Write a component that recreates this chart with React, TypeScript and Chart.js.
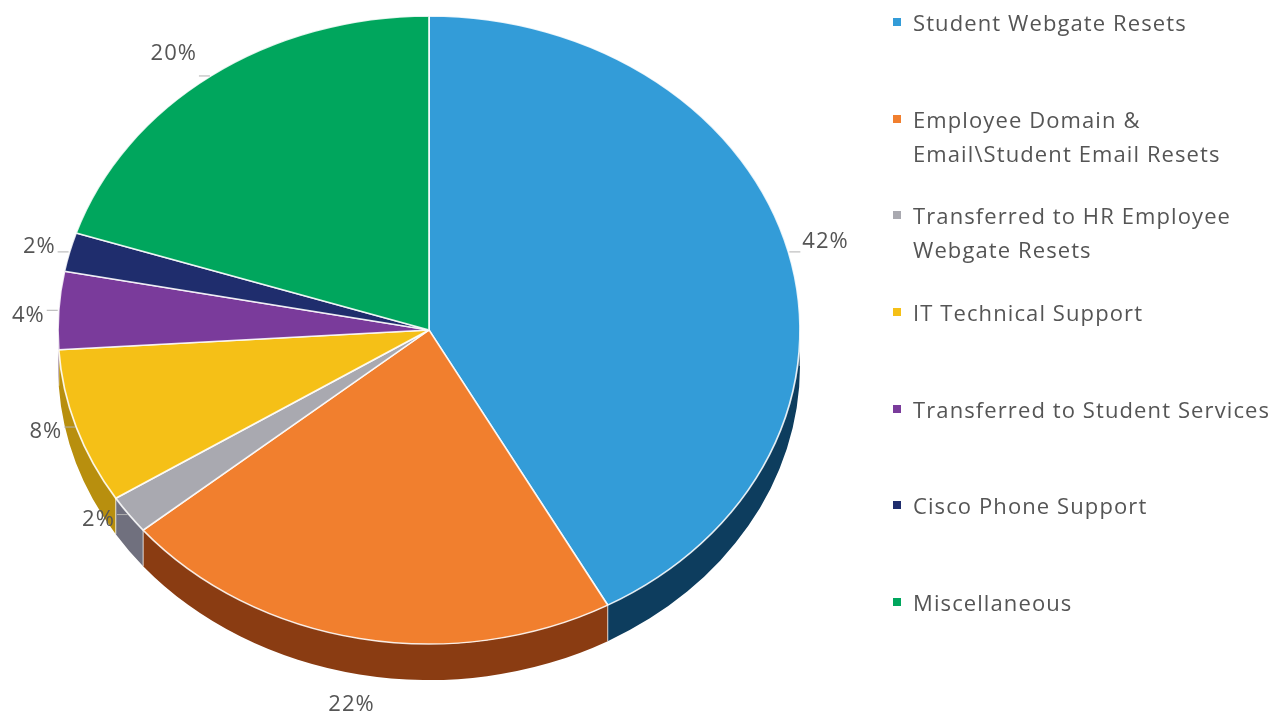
import React, { useEffect, useRef } from "react";
import { Chart, registerables } from "chart.js";

Chart.register(...registerables);

// ---- data ----
const categories = [
  "Student Webgate Resets",
  "Employee Domain & Email\\Student Email Resets",
  "Transferred to HR Employee Webgate Resets",
  "IT Technical Support",
  "Transferred to Student Services",
  "Cisco Phone Support",
  "Miscellaneous",
];
const legendLines = [
  ["Student Webgate Resets"],
  ["Employee Domain &", "Email\\Student Email Resets"],
  ["Transferred to HR Employee", "Webgate Resets"],
  ["IT Technical Support"],
  ["Transferred to Student Services"],
  ["Cisco Phone Support"],
  ["Miscellaneous"],
];
const values = [42, 22, 2, 8, 4, 2, 20];
const percentLabels = ["42%", "22%", "2%", "8%", "4%", "2%", "20%"];
const topColors = ["#339cd8", "#f17f2e", "#a9a9b0", "#f5c017", "#7a3b9b", "#1f2d6d", "#00a65d"];
const sideColors = ["#0d3d5e", "#8a3c12", "#70707e", "#b88f0e", "#4a2060", "#101a40", "#006a3a"];

// ---- look ----
const SX = 371 / 314; // horizontal stretch of the tilted pie
const DEPTH = 36;

const pie3d = {
  id: "pie3d",
  beforeDatasetsDraw(chart: any) {
    const meta = chart.getDatasetMeta(0);
    const ctx = chart.ctx as CanvasRenderingContext2D;
    const a0 = meta.data[0] as any;
    const cx = a0.x, cy = a0.y;
    ctx.save();
    ctx.translate(cx, cy);
    ctx.scale(SX, 1);
    ctx.translate(-cx, -cy);
    meta.data.forEach((el: any, i: number) => {
      const s = Math.max(el.startAngle, 0);
      const e = Math.min(el.endAngle, Math.PI);
      if (e > s) {
        ctx.beginPath();
        ctx.arc(el.x, el.y, el.outerRadius, s, e);
        ctx.arc(el.x, el.y + DEPTH, el.outerRadius, e, s, true);
        ctx.closePath();
        ctx.fillStyle = sideColors[i];
        ctx.fill();
        ctx.strokeStyle = "rgba(255,255,255,0.6)";
        ctx.lineWidth = 1;
        ctx.beginPath();
        ctx.moveTo(el.x + el.outerRadius * Math.cos(s), el.y + el.outerRadius * Math.sin(s));
        ctx.lineTo(el.x + el.outerRadius * Math.cos(s), el.y + DEPTH + el.outerRadius * Math.sin(s));
        ctx.stroke();
      }
    });
  },
  afterDatasetsDraw(chart: any) {
    const ctx = chart.ctx as CanvasRenderingContext2D;
    ctx.restore();
    const meta = chart.getDatasetMeta(0);
    ctx.save();
    ctx.font = "22px 'Open Sans', sans-serif";
    (ctx as any).letterSpacing = "1px";
    ctx.fillStyle = "#555555";
    ctx.strokeStyle = "#b0b0b0";
    ctx.lineWidth = 1;
    meta.data.forEach((el: any, i: number) => {
      const mid = (el.startAngle + el.endAngle) / 2;
      const r = el.outerRadius;
      const ax = el.x + SX * r * Math.cos(mid);
      const ay = el.y + r * Math.sin(mid);
      const text = percentLabels[i];
      const sn = Math.sin(mid);
      if (sn > 0.9) {
        ctx.textAlign = "center";
        ctx.textBaseline = "middle";
        ctx.fillText(text, ax - 8, ay + DEPTH + 30);
      } else if (Math.cos(mid) >= 0) {
        ctx.beginPath();
        ctx.moveTo(ax + 1, ay);
        ctx.lineTo(ax + 12, ay);
        ctx.stroke();
        ctx.textAlign = "left";
        ctx.textBaseline = "middle";
        ctx.fillText(text, ax + 14, ay - 10);
      } else {
        const dy = sn < -0.2 ? 30 * sn + 2 : 5;
        ctx.beginPath();
        ctx.moveTo(ax - 1, ay);
        ctx.lineTo(ax - 12, ay);
        ctx.stroke();
        ctx.textAlign = "right";
        ctx.textBaseline = "middle";
        ctx.fillText(text, ax - 14, ay + dy);
      }
    });
    ctx.restore();
  },
};

export default function App() {
  const ref = useRef<HTMLCanvasElement>(null);
  useEffect(() => {
    const chart = new Chart(ref.current!, {
      type: "pie",
      data: {
        labels: categories,
        datasets: [
          {
            data: values,
            backgroundColor: topColors,
            borderColor: "rgba(255,255,255,0.85)",
            borderWidth: 1.5,
            radius: 314,
          } as any,
        ],
      },
      options: {
        responsive: false,
        animation: false,
        layout: { padding: { left: 0, right: 425, top: 0, bottom: 69 } },
        plugins: { legend: { display: false }, tooltip: { enabled: false } },
      },
      plugins: [pie3d],
    });
    return () => chart.destroy();
  }, []);

  return (
    <div
      style={{
        position: "relative",
        width: 1267,
        height: 705,
        fontFamily: "'Open Sans', sans-serif",
        background: "#fff",
      }}
    >
      <canvas ref={ref} width={1267} height={713} style={{ position: "absolute", left: 0, top: 0 }} />
      <div style={{ position: "absolute", left: 885, top: -3 }}>
        {legendLines.map((lines, i) => (
          <div key={i} style={{ height: 96.7, display: "flex", alignItems: "flex-start" }}>
            <div
              style={{
                width: 8,
                height: 8,
                background: topColors[i],
                marginTop: 13,
                marginRight: 12,
                flex: "none",
              }}
            />
            <div
              style={{
                fontSize: 22,
                letterSpacing: "1.1px",
                lineHeight: "34px",
                color: "#555555",
                whiteSpace: "nowrap",
              }}
            >
              {lines.map((l, j) => (
                <div key={j}>{l}</div>
              ))}
            </div>
          </div>
        ))}
      </div>
    </div>
  );
}
